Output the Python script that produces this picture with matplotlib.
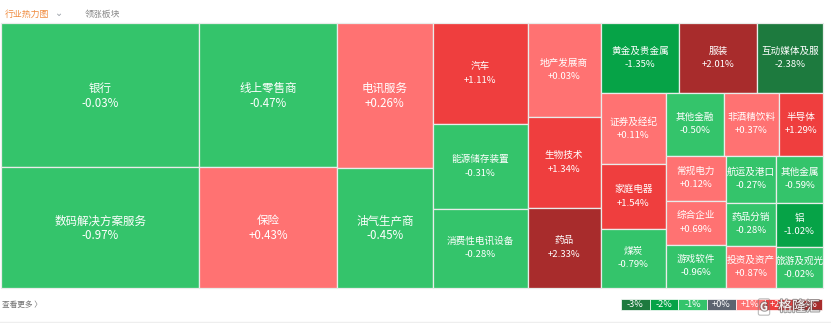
"""Sector heat map (treemap) with squarified layout, coloured by daily change."""
import matplotlib
matplotlib.use('Agg')
import matplotlib.pyplot as plt
from matplotlib.patches import Rectangle
import matplotlib.patheffects as pe

plt.rcParams['font.family'] = ['Noto Sans CJK SC', 'DejaVu Sans']

# ---- data -------------------------------------------------------------------
SECTORS = ['银行', '数码解决方案服务', '线上零售商', '保险', '电讯服务', '油气生产商',
           '汽车', '能源储存装置', '消费性电讯设备', '地产发展商', '生物技术', '药品',
           '黄金及贵金属', '服装', '互动媒体及服', '证券及经纪', '家庭电器', '煤炭',
           '其他金融', '非酒精饮料', '半导体', '常规电力', '综合企业', '游戏软件',
           '航运及港口', '其他金属', '药品分销', '投资及资产', '铝', '旅游及观光']
CHANGES = [-0.03, -0.97, -0.47, 0.43, 0.26, -0.45,
           1.11, -0.31, -0.28, 0.03, 1.34, 2.33,
           -1.35, 2.01, -2.38, 0.11, 1.54, -0.79,
           -0.50, 0.37, 1.29, 0.12, 0.69, -0.96,
           -0.27, -0.59, -0.28, 0.87, -1.02, -0.02]
WEIGHTS = [28500, 23800, 19900, 16600, 13700, 11400,
           9600, 8000, 7500, 6900, 6600, 5850,
           5470, 5460, 4620, 4610, 4160, 3840,
           3600, 3410, 2730, 2700, 2640, 2580,
           2350, 2210, 2150, 2100, 2095, 1900]

LEGEND_LABELS = ['-3%', '-2%', '-1%', '+0%', '+1%', '+2%', '+3%']
LEGEND_COLORS = ['#1d7a3e', '#06a347', '#34c46b', '#5d6470', '#ff7272', '#ef3e3e', '#a82c2c']

# treemap frame in pixel coordinates
TM_X0, TM_Y0, TM_W, TM_H = 1, 23, 822, 265


def _colorFor(v):
    if v <= -2:
        return LEGEND_COLORS[0]
    if v <= -1:
        return LEGEND_COLORS[1]
    if v < 0:
        return LEGEND_COLORS[2]
    if v == 0:
        return LEGEND_COLORS[3]
    if v < 1:
        return LEGEND_COLORS[4]
    if v < 2:
        return LEGEND_COLORS[5]
    return LEGEND_COLORS[6]


def _worst(areas, fixed):
    s = sum(areas)
    f = fixed * fixed
    return max(f * max(areas) / (s * s), (s * s) / (f * min(areas)))


def _position(areas, fixed, rect, flush=False):
    """lay one row along the shorter side; rect = [x, y, w, h] is consumed."""
    x, y, w, h = rect
    horiz = fixed == w
    other = sum(areas) / fixed if fixed else 0
    out = []
    if horiz:
        if flush or other > h:
            other = h
        last = x
        for a in areas:
            step = a / other if other else 0
            out.append((last, y, step, other))
            last += step
        rect[1] += other
        rect[3] -= other
    else:
        if flush or other > w:
            other = w
        last = y
        for a in areas:
            step = a / other if other else 0
            out.append((x, last, other, step))
            last += step
        rect[0] += other
        rect[2] -= other
    return out


def squarify(weights, x, y, w, h):
    total = float(sum(weights))
    areas = [v / total * w * h for v in weights]
    rect = [x, y, w, h]
    boxes = []
    row = []
    best = float('inf')
    fixed = min(w, h)
    i = 0
    while i < len(areas):
        row.append(areas[i])
        score = _worst(row, fixed)
        if score <= best:
            best = score
            i += 1
        else:
            row.pop()
            boxes += _position(row, fixed, rect)
            fixed = min(rect[2], rect[3])
            row = []
            best = float('inf')
    if row:
        boxes += _position(row, fixed, rect, flush=True)
    return boxes


fig = plt.figure(figsize=(8.31, 3.23), dpi=100)
ax = fig.add_axes([0, 0, 1, 1])
ax.set_xlim(0, 831)
ax.set_ylim(323, 0)
ax.axis('off')

# header
ax.text(5, 14, '行业热力图', color='#f08a3c', fontsize=6.4, va='center', ha='left')
ax.text(55, 12.5, '⌄', color='#9aa0a8', fontsize=7, va='center', ha='left',
        family=['DejaVu Sans'])
ax.text(85, 14, '领涨板块', color='#8a8a8a', fontsize=6.4, va='center', ha='left')

# treemap cells
for (bx, by, bw, bh), name, chg in zip(squarify(WEIGHTS, TM_X0, TM_Y0, TM_W, TM_H),
                                       SECTORS, CHANGES):
    ax.add_patch(Rectangle((bx, by), bw, bh, facecolor=_colorFor(chg),
                           edgecolor='#e9ecea', linewidth=0.9))
    cx, cy = bx + bw / 2, by + bh / 2
    big = bw * bh > 10000
    fs = 8.3 if big else 6.9
    ax.text(cx, cy - 7, name, color='white', fontsize=fs, ha='center', va='center')
    ax.text(cx, cy + (8 if big else 6.5), f'{chg:+.2f}%', color='white',
            fontsize=fs, ha='center', va='center')

# footer
ax.text(2, 305, '查看更多 〉', color='#707070', fontsize=5.5, ha='left', va='center')
for k, (lab, col) in enumerate(zip(LEGEND_LABELS, LEGEND_COLORS)):
    lx = 621 + k * 28.7
    ax.add_patch(Rectangle((lx, 299), 28.7, 11, facecolor=col, edgecolor='white',
                           linewidth=0.5))
    ax.text(lx + 14.35, 304.5, lab, color='white', fontsize=6.6, ha='center',
            va='center')
ax.plot([0, 831], [321.5, 321.5], color='#eeeeee', linewidth=1)

# watermark
stroke = [pe.withStroke(linewidth=1.6, foreground='#555555', alpha=0.55)]
ax.text(764, 307, 'G', color='white', fontsize=8, ha='center', va='center',
        fontweight='bold', alpha=0.9, path_effects=stroke,
        bbox=dict(boxstyle='round,pad=0.15', facecolor='none', edgecolor='#777777',
                  alpha=0.5, linewidth=0.8))
ax.text(799, 307, '格隆汇', color='white', fontsize=10, ha='center', va='center',
        alpha=0.9, path_effects=stroke)

fig.savefig('out.png', dpi=100)
plt.close(fig)
